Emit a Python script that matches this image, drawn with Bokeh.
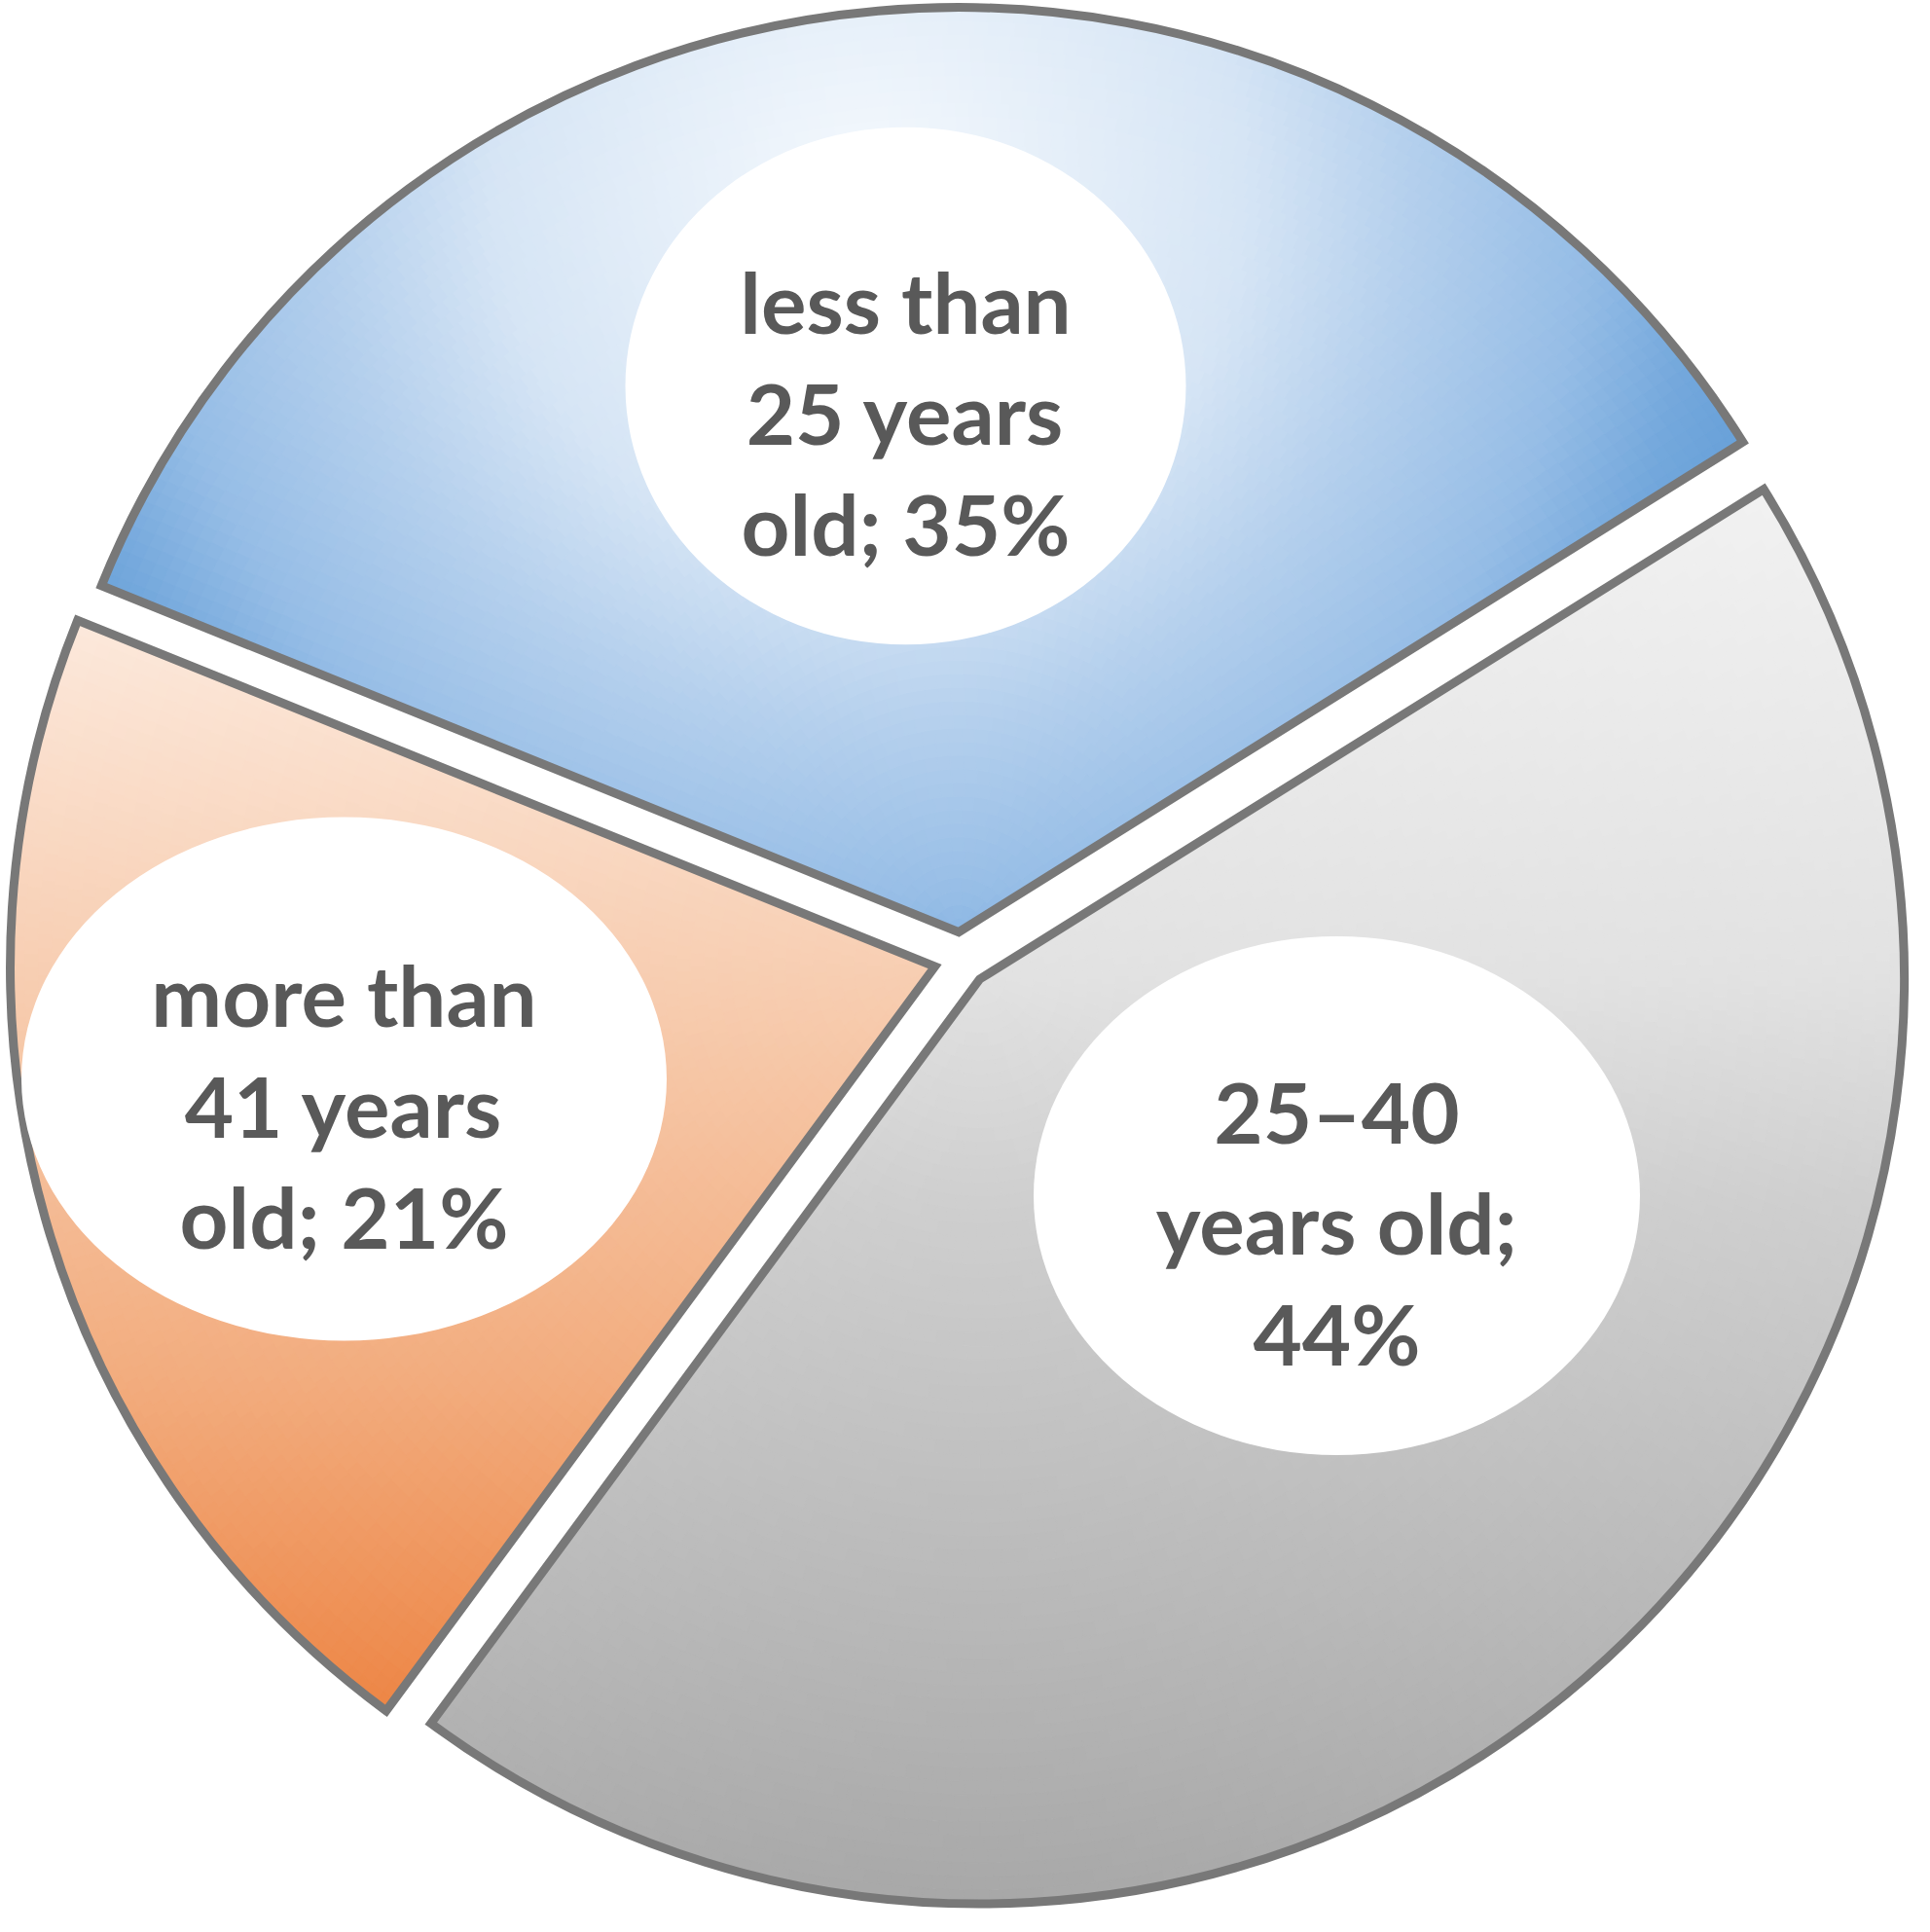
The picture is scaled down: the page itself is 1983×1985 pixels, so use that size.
import numpy as np
from bokeh.plotting import figure
from bokeh.models import Range1d, ColumnDataSource
from bokeh.embed import file_html
from bokeh.resources import INLINE
from bokeh.core.properties import value

# ---------------- data ----------------
categories = ["less than 25 years old", "25–40 years old", "more than 41 years old"]
shares = [35, 44, 21]
label_lines = [
    ["less than", "25 years", "old; 35%"],
    ["25–40", "years old;", "44%"],
    ["more than", "41 years", "old; 21%"],
]

# ---------------- layout / style ----------------
W, H = 1967, 1969
MARGIN = 8
def to_data_y(Y):          # reference pixel row -> data y (y up)
    return (MARGIN + H) - Y

PIE_CX, PIE_CY = 995.0, 993.0   # pixel position of pie centre
RADIUS = 950.0
EXPLODE = 28.0
START_DEG = 158.0               # first slice starts here, slices go clockwise
OUTLINE = "#787878"
TEXT_COLOR = "#595959"
FONT = "Lato"
FONT_SIZE = "87px"
LINE_GAP = 114
BASE_OFF = 27

label_centers = [(938, 404), (1381, 1236), (361, 1116)]
label_sizes = [(576, 532), (623, 533), (663, 538)]

def hexc(c):
    return "#%02x%02x%02x" % tuple(int(round(v)) for v in c)

def ramp(stops, t):
    t = min(max(t, 0.0), 1.0)
    for (t0, c0), (t1, c1) in zip(stops[:-1], stops[1:]):
        if t <= t1:
            f = 0.0 if t1 == t0 else (t - t0) / (t1 - t0)
            return hexc([a + (b - a) * f for a, b in zip(c0, c1)])
    return hexc(stops[-1][1])

blue_stops = [(0.0, (245, 249, 253)), (0.42, (214, 229, 245)), (0.6, (181, 208, 237)),
              (0.8, (150, 189, 230)), (0.93, (116, 168, 220)), (1.0, (106, 162, 217))]
gray_stops = [(0.0, (241, 241, 241)), (0.34, (226, 226, 226)), (0.5, (207, 207, 207)),
              (0.85, (180, 180, 180)), (1.0, (168, 168, 168))]
orange_stops = [(0.0, (252, 233, 220)), (0.35, (247, 204, 175)), (0.7, (242, 172, 126)),
                (1.0, (237, 134, 70))]

def grad_blue(X, Y):
    d = np.hypot(X - 900, Y - 200)
    return ramp(blue_stops, d / 920.0)

def grad_gray(X, Y):
    return ramp(gray_stops, (Y - 517) / (1963 - 517))

def grad_orange(X, Y):
    return ramp(orange_stops, (Y - 642) / (1763 - 642))

gradients = [grad_blue, grad_gray, grad_orange]

# ---------------- geometry from data ----------------
total = float(sum(shares))
cum = np.concatenate([[0.0], np.cumsum(shares)]) / total
start = np.deg2rad(START_DEG)
a_hi = start - cum[:-1] * 2 * np.pi     # clockwise order
a_lo = start - cum[1:] * 2 * np.pi
mid = (a_hi + a_lo) / 2
cx_d, cy_d = PIE_CX, to_data_y(PIE_CY)
sx = cx_d + EXPLODE * np.cos(mid)
sy = cy_d + EXPLODE * np.sin(mid)

# gradient cells (small annular wedges)
cell = dict(x=[], y=[], ir=[], orad=[], sa=[], ea=[], c=[])
STEP = 14.0
for i in range(len(shares)):
    a0, a1 = a_lo[i], a_hi[i]
    nr = int(np.ceil(RADIUS / STEP))
    dr = RADIUS / nr
    for k in range(nr):
        rin, rout = k * dr, (k + 1) * dr
        na = max(1, int(np.ceil(rout * (a1 - a0) / STEP)))
        da = (a1 - a0) / na
        rm = (rin + rout) / 2
        for j in range(na):
            t0 = a0 + j * da
            tm = t0 + da / 2
            px = sx[i] + rm * np.cos(tm)
            py = sy[i] + rm * np.sin(tm)
            col = gradients[i](px, to_data_y(py))
            cell["x"].append(sx[i]); cell["y"].append(sy[i])
            cell["ir"].append(rin); cell["orad"].append(rout)
            cell["sa"].append(t0); cell["ea"].append(t0 + da)
            cell["c"].append(col)

# ---------------- figure ----------------
p = figure(width=W, height=H, output_backend="svg", toolbar_location=None,
           x_range=Range1d(MARGIN, MARGIN + W), y_range=Range1d(0, H),
           min_border=0, x_axis_location=None, y_axis_location=None,
           background_fill_color="white", border_fill_color="white")
p.outline_line_color = None
p.xgrid.visible = False
p.ygrid.visible = False

p.annular_wedge(x="x", y="y", inner_radius="ir", outer_radius="orad",
                start_angle="sa", end_angle="ea", fill_color="c", line_color="c",
                line_width=1.2, source=ColumnDataSource(cell))

p.wedge(x=list(sx), y=list(sy), radius=RADIUS, start_angle=list(a_lo), end_angle=list(a_hi),
        fill_color=None, line_color=OUTLINE, line_width=9, line_join="miter")

# label bubbles
p.ellipse(x=[c[0] for c in label_centers], y=[to_data_y(c[1]) for c in label_centers],
          width=[s[0] for s in label_sizes], height=[s[1] for s in label_sizes],
          fill_color="white", line_color=None)

tx, ty, tt = [], [], []
for (lx, ly), lines in zip(label_centers, label_lines):
    n = len(lines)
    for k, line in enumerate(lines):
        base = ly + BASE_OFF + (k - (n - 1) / 2) * LINE_GAP
        tx.append(lx); ty.append(to_data_y(base)); tt.append(line)
p.text(x=tx, y=ty, text=tt, text_font=value(FONT), text_font_style="bold",
       text_font_size=value(FONT_SIZE), text_color=TEXT_COLOR,
       text_align="center", text_baseline="alphabetic")

open("out.html", "w").write(file_html(p, INLINE))
